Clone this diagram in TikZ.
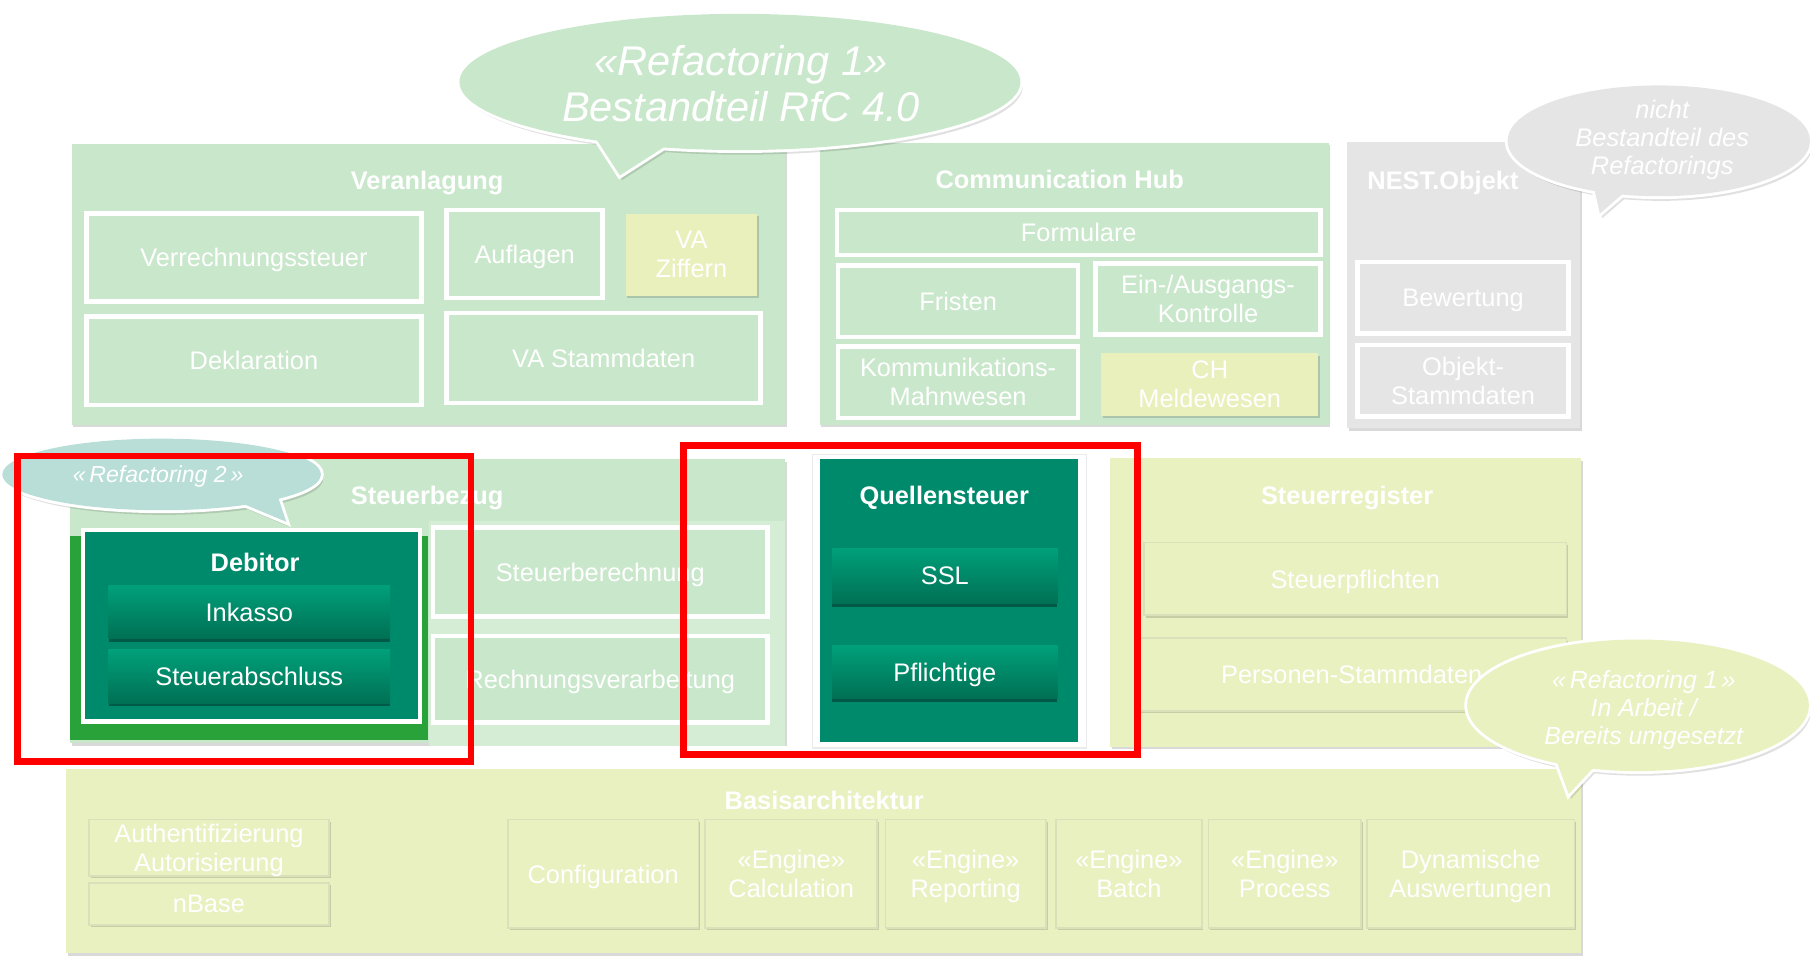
\documentclass[tikz,border=0pt]{standalone}
\usepackage{fontspec}
\setmainfont{Liberation Sans}
\usetikzlibrary{shadows}
\definecolor{lg}{RGB}{201,231,203}
\definecolor{lgl}{RGB}{212,237,212}
\definecolor{yg}{RGB}{233,241,193}
\definecolor{ygd}{RGB}{218,224,186}
\definecolor{yz}{RGB}{234,240,188}
\definecolor{gy}{RGB}{229,229,229}
\definecolor{teal1}{RGB}{0,138,108}
\definecolor{btop}{RGB}{0,160,122}
\definecolor{bbot}{RGB}{0,112,84}
\definecolor{vgreen}{RGB}{42,162,58}
\definecolor{bub2}{RGB}{185,222,215}
\definecolor{redline}{RGB}{255,0,0}
\newcommand\Bx[7]{\node[#6, minimum width={#4pt-#2pt}, minimum height={#5pt-#3pt}] (#1) at ({(#2+#4)/2},{(#3+#5)/2}) {#7};}
\begin{document}
\begin{tikzpicture}[x=1pt,y=-1pt,
  every node/.style={inner sep=0pt, outer sep=0pt, text=white, align=center, text depth=0pt, font=\fontsize{22}{25}\selectfont},
  softshadow/.style={drop shadow={shadow xshift=1.5pt, shadow yshift=-2pt, opacity=0.15, fill=black}},
  panel/.style={fill=lg, softshadow},
  gpanel/.style={fill=gy, softshadow},
  ypanel/.style={fill=yg, softshadow},
  wpanel/.style={fill=white, draw=black!8, line width=1pt},
  tpanel/.style={fill=teal1},
  ttl/.style={font=\bfseries\fontsize{22}{25}\selectfont},
  wbox/.style={fill=lg, draw=white, line width=4pt, softshadow},
  gbox/.style={fill=gy, draw=white, line width=4pt, softshadow},
  yzbox/.style={fill=yz, softshadow},
  sbox/.style={fill=yg, draw=ygd, line width=1.5pt, softshadow},
  vg/.style={fill=vgreen},
  lightregion/.style={fill=lgl},
  debbox/.style={fill=teal1, draw=white, line width=4pt, softshadow},
  btn/.style={top color=btop, bottom color=bbot, drop shadow={shadow xshift=0pt, shadow yshift=-3pt, opacity=0.35, fill=black}},
  bub/.style={font=\itshape\fontsize{22}{24.5}\selectfont},
  redbox/.style={draw=redline, line width=6pt}
]
\useasboundingbox (0,0) rectangle (1568,828);
\fill[white] (0,0) rectangle (1568,828);

% ---------- panels ----------
\Bx{veran}{62}{125}{680}{368}{panel}{}
\Bx{comm}{710}{124}{1151}{368}{panel}{}
\Bx{nest}{1167}{123}{1369}{371}{gpanel}{}
\Bx{steuerbez}{61}{398}{680}{644}{panel}{}
\Bx{qwhite}{704}{394}{941}{648}{wpanel}{}
\Bx{quellen}{710}{398}{934}{643}{tpanel}{}
\Bx{sreg}{962}{397}{1370}{647}{ypanel}{}
\Bx{basis}{57}{666}{1370}{826}{ypanel}{}

% ---------- titles ----------
\node[ttl] (t-veran) at (370,156) {Veranlagung};
\node[ttl] (t-comm) at (918,155) {Communication Hub};
\node[ttl] (t-nest) at (1250,156) {NEST.Objekt};
\node[ttl] (t-steuerbez) at (370,429) {Steuerbezug};
\node[ttl] (t-quellen) at (818,429) {Quellensteuer};
\node[ttl] (t-sreg) at (1167,429) {Steuerregister};
\node[ttl] (t-basis) at (714,693) {Basisarchitektur};

% ---------- Veranlagung ----------
\Bx{verr}{75}{185}{365}{261}{wbox}{Verrechnungssteuer}
\Bx{aufl}{387}{182}{522}{258}{wbox}{Auflagen}
\Bx{vaz}{542}{185}{656}{256}{yzbox}{VA\\Ziffern}
\Bx{dekl}{75}{274}{365}{351}{wbox}{Deklaration}
\Bx{vastamm}{387}{271}{659}{349}{wbox}{VA Stammdaten}

% ---------- Communication Hub ----------
\Bx{form}{725}{182}{1144}{221}{wbox}{Formulare}
\Bx{frist}{726}{230}{934}{292}{wbox}{Fristen}
\Bx{einaus}{949}{228}{1144}{290}{wbox}{Ein-/Ausgangs-\\Kontrolle}
\Bx{komm}{726}{300}{934}{362}{wbox}{Kommunikations-\\Mahnwesen}
\Bx{chm}{954}{306}{1142}{360}{yzbox}{CH\\Meldewesen}

% ---------- NEST.Objekt ----------
\Bx{bew}{1176}{227}{1359}{289}{gbox}{Bewertung}
\Bx{objs}{1176}{299}{1359}{361}{gbox}{Objekt-\\Stammdaten}

% ---------- Steuerbezug ----------
\Bx{debgreen}{61}{464}{371}{641}{vg}{}
\Bx{slight}{372}{451}{680}{646}{lightregion}{}
\Bx{debitor}{72}{459}{364}{625}{debbox}{}
\node[ttl] (t-debitor) at (221,487) {Debitor};
\Bx{inkasso}{94}{507}{338}{553}{btn}{Inkasso}
\Bx{sabschl}{94}{563}{338}{609}{btn}{Steuerabschluss}
\Bx{sberech}{375}{457}{665}{534}{wbox}{Steuerberechnung}
\Bx{rverarb}{375}{551}{665}{626}{wbox}{Rechnungsverarbeitung}

% ---------- Quellensteuer ----------
\Bx{ssl}{721}{475}{916}{523}{btn}{SSL}
\Bx{pfl}{721}{559}{916}{605}{btn}{Pflichtige}

% ---------- Steuerregister ----------
\Bx{spfl}{991}{470}{1357}{533}{sbox}{Steuerpflichten}
\Bx{pers}{985}{553}{1357}{616}{sbox}{Personen-Stammdaten}

% ---------- Basisarchitektur ----------
\Bx{auth}{77}{710}{285}{759}{sbox}{Authentifizierung\\Autorisierung}
\Bx{nbase}{77}{765}{285}{801}{sbox}{nBase}
\Bx{config}{440}{710}{605}{804}{sbox}{Configuration}
\Bx{ecalc}{611}{710}{760}{804}{sbox}{«Engine»\\Calculation}
\Bx{erep}{767}{710}{906}{804}{sbox}{«Engine»\\Reporting}
\Bx{ebatch}{915}{710}{1041}{804}{sbox}{«Engine»\\Batch}
\Bx{eproc}{1047}{710}{1179}{804}{sbox}{«Engine»\\Process}
\Bx{dyn}{1184}{710}{1364}{804}{sbox}{Dynamische\\Auswertungen}

% ---------- bubbles ----------
% big top bubble
\path[fill=black, opacity=0.12, shift={(2,4)}] (641,71) ellipse [x radius=243pt, y radius=59pt] (515,118) -- (537,152) -- (590,118) -- cycle;
\path[draw=white, line width=5pt, fill=white] (641,71) ellipse [x radius=243pt, y radius=59pt] (515,118) -- (537,152) -- (590,118) -- cycle;
\path[fill=lg] (641,71) ellipse [x radius=243pt, y radius=59pt] (515,118) -- (537,152) -- (590,118) -- cycle;
\node[font=\itshape\fontsize{36}{40}\selectfont] (bigtxt) at (642,72) {«Refactoring 1»\\Bestandteil RfC 4.0};

% grey bubble
\path[fill=black, opacity=0.12, shift={(2,4)}] (1437,122) ellipse [x radius=131pt, y radius=48pt] (1378,150) -- (1386,185) -- (1415,160) -- cycle;
\path[draw=white, line width=5pt, fill=white] (1437,122) ellipse [x radius=131pt, y radius=48pt] (1378,150) -- (1386,185) -- (1415,160) -- cycle;
\path[fill=gy] (1437,122) ellipse [x radius=131pt, y radius=48pt] (1378,150) -- (1386,185) -- (1415,160) -- cycle;
\node[bub] (greytxt) at (1440,119) {nicht\\Bestandteil des\\Refactorings};

% yellow bubble
\path[fill=black, opacity=0.12, shift={(2,4)}] (1419,611) ellipse [x radius=148pt, y radius=57pt] (1345,650) -- (1359,688) -- (1385,660) -- cycle;
\path[draw=white, line width=5pt, fill=white] (1419,611) ellipse [x radius=148pt, y radius=57pt] (1345,650) -- (1359,688) -- (1385,660) -- cycle;
\path[fill=yg] (1419,611) ellipse [x radius=148pt, y radius=57pt] (1345,650) -- (1359,688) -- (1385,660) -- cycle;
\node[bub, font=\itshape\fontsize{21.5}{24.5}\selectfont] (yeltxt) at (1424,613) {«\,Refactoring 1\,»\\In Arbeit /\\Bereits umgesetzt};

% Refactoring 2 bubble
\path[fill=black, opacity=0.12, shift={(2,4)}] (140,411) ellipse [x radius=138pt, y radius=31pt] (200,432) -- (248,452) -- (240,428) -- cycle;
\path[draw=white, line width=5pt, fill=white] (140,411) ellipse [x radius=138pt, y radius=31pt] (200,432) -- (248,452) -- (240,428) -- cycle;
\path[fill=bub2] (140,411) ellipse [x radius=138pt, y radius=31pt] (200,432) -- (248,452) -- (240,428) -- cycle;
\node[bub, font=\itshape\fontsize{20}{22}\selectfont] (r2txt) at (137,411) {«\,Refactoring 2\,»};

% ---------- red frames ----------
\draw[redbox] (15,395) rectangle (408,660);
\draw[redbox] (592,386) rectangle (985,654);
\end{tikzpicture}
\end{document}
